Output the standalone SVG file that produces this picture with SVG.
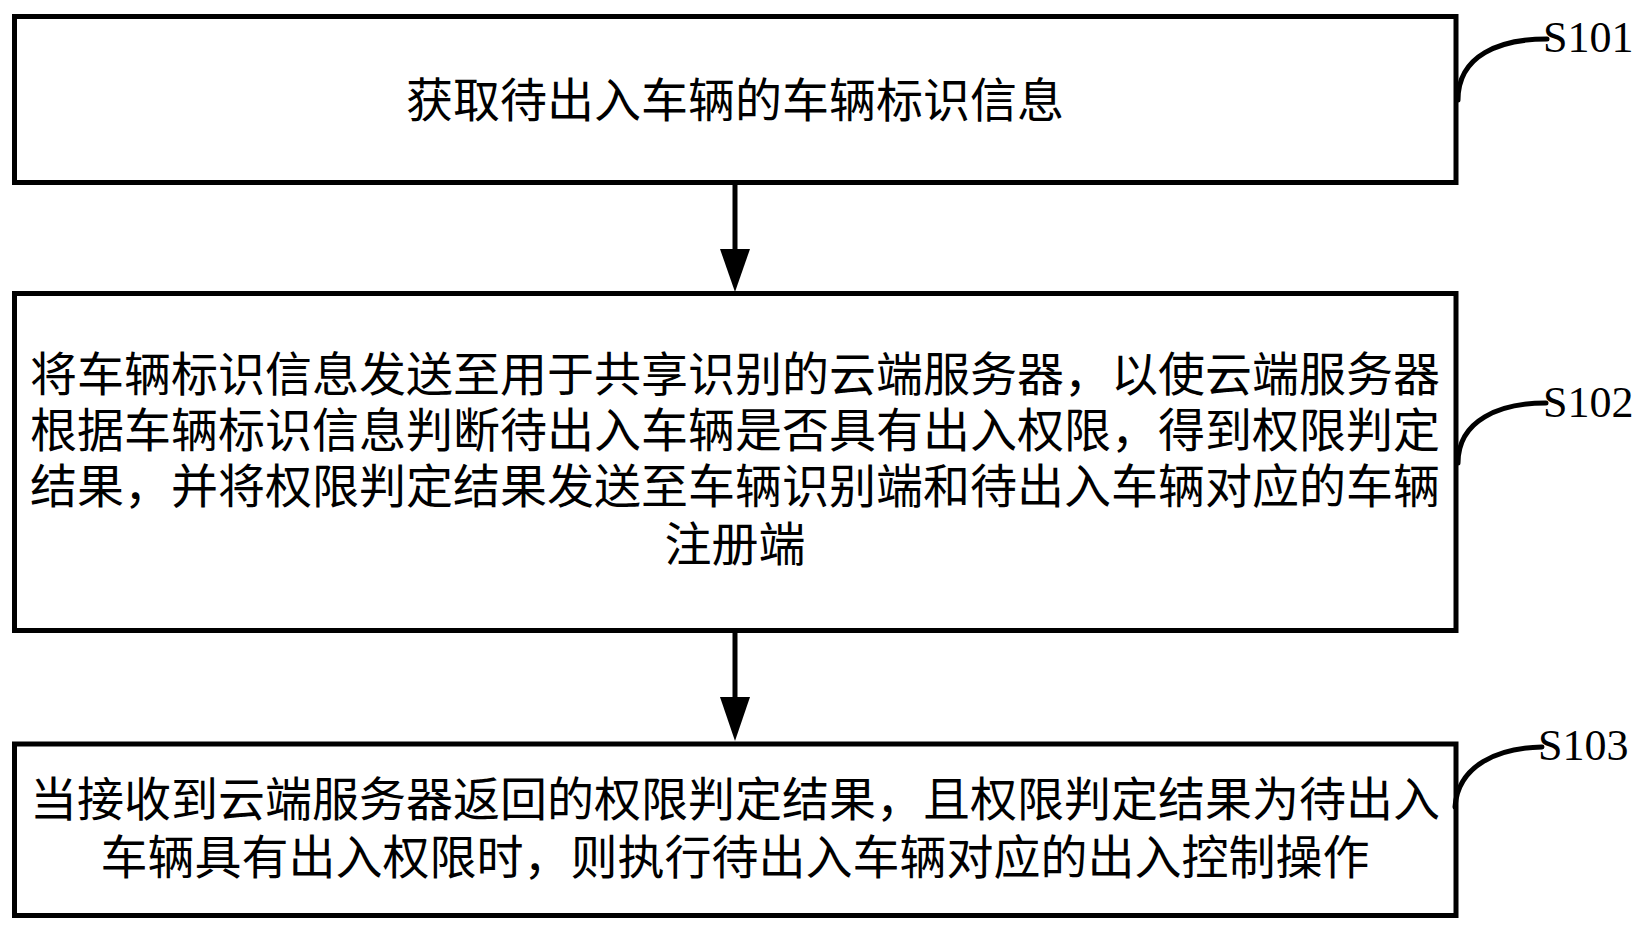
<svg xmlns="http://www.w3.org/2000/svg" width="1649" height="933" viewBox="0 0 1649 933">
<style>
.box{fill:#fff;stroke:#000;stroke-width:5}
.t{font-family:"Liberation Serif","Noto Sans CJK SC",serif;font-size:47px;fill:#000;text-anchor:middle}
.lbl{font-family:"Liberation Serif",serif;font-size:44px;fill:#000}
.conn{stroke:#000;stroke-width:5;fill:none}
.lead{stroke:#000;stroke-width:5;fill:none;stroke-linecap:round}
</style>
<rect width="1649" height="933" fill="#fff"/>
<g id="connectors">
<line class="conn" x1="735" y1="185" x2="735" y2="252"/>
<polygon points="720,249 750,249 735,292" fill="#000"/>
<line class="conn" x1="735" y1="633" x2="735" y2="700"/>
<polygon points="720,697 750,697 735,741" fill="#000"/>
</g>
<g id="S101">
<rect class="box" x="14.5" y="16.5" width="1441.5" height="166"/>
<text class="t" x="735" y="117">获取待出入车辆的车辆标识信息</text>
<path class="lead" d="M1458,100 C1458,55 1500,39 1547,39"/>
<text class="lbl" x="1543" y="52">S101</text>
</g>
<g id="S102">
<rect class="box" x="14.5" y="293.5" width="1441.5" height="337"/>
<text class="t" x="735" y="391">将车辆标识信息发送至用于共享识别的云端服务器，以使云端服务器</text>
<text class="t" x="735" y="447">根据车辆标识信息判断待出入车辆是否具有出入权限，得到权限判定</text>
<text class="t" x="735" y="503">结果，并将权限判定结果发送至车辆识别端和待出入车辆对应的车辆</text>
<text class="t" x="735" y="561">注册端</text>
<path class="lead" d="M1458,463 C1458,420 1500,403 1546,403"/>
<text class="lbl" x="1543" y="417">S102</text>
</g>
<g id="S103">
<rect class="box" x="14.5" y="744" width="1441.5" height="171.5"/>
<text class="t" x="735" y="816">当接收到云端服务器返回的权限判定结果，且权限判定结果为待出入</text>
<text class="t" x="735" y="874">车辆具有出入权限时，则执行待出入车辆对应的出入控制操作</text>
<path class="lead" d="M1455,807 C1458,765 1498,748 1542,747"/>
<text class="lbl" x="1538" y="760">S103</text>
</g>
</svg>
